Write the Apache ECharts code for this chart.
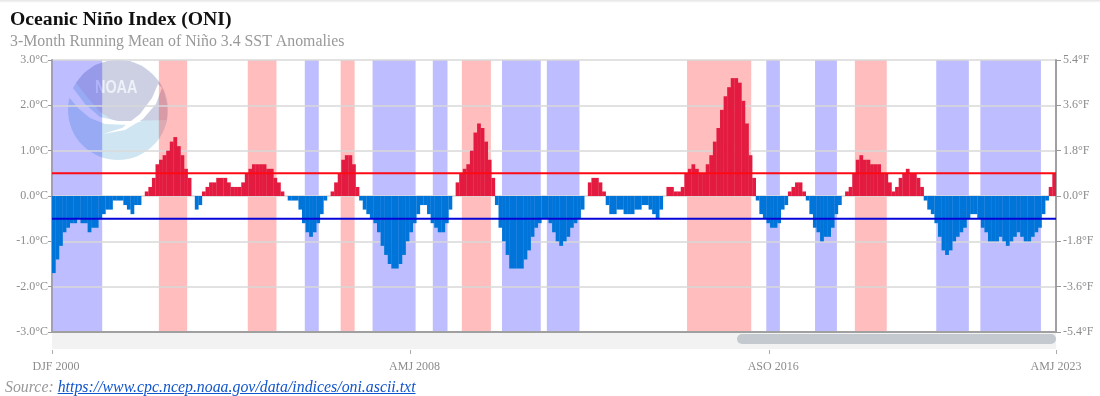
<!DOCTYPE html>
<html>
<head>
<meta charset="utf-8">
<title>Oceanic Niño Index (ONI)</title>
<script src="https://cdn.jsdelivr.net/npm/echarts@6/dist/echarts.min.js"></script>
<style>
  html, body { margin: 0; padding: 0; background: #fff; }
  #topShade { position: absolute; left: 0; top: 0; width: 1100px; height: 3px; background: linear-gradient(#e4e4e4, #fff); z-index: 2; }
  #chart { position: absolute; left: 0; top: 0; width: 1100px; height: 396px; }
  #source { position: absolute; left: 5px; top: 378px; font: italic 15.85px "Liberation Serif", serif; color: #999; }
  #source a { color: #1155cc; }
</style>
</head>
<body>
<div id="topShade"></div>
<div id="chart"></div>
<div id="source">Source: <a href="https://www.cpc.ncep.noaa.gov/data/indices/oni.ascii.txt">https://www.cpc.ncep.noaa.gov/data/indices/oni.ascii.txt</a></div>
<script>
const seasons = ["DJF", "JFM", "FMA", "MAM", "AMJ", "MJJ", "JJA", "JAS", "ASO", "SON", "OND", "NDJ"];
const tickLabels = ["DJF 2000", "AMJ 2008", "ASO 2016", "AMJ 2023"];

const oni2000 = [-1.7, -1.4, -1.1, -0.8, -0.7, -0.6, -0.6, -0.5, -0.6, -0.6, -0.8, -0.7];
const oni2001 = [-0.7, -0.5, -0.4, -0.3, -0.3, -0.1, -0.1, -0.1, -0.2, -0.3, -0.4, -0.2];
const oni2002 = [-0.2, 0.0, 0.1, 0.2, 0.4, 0.7, 0.8, 0.9, 1.0, 1.2, 1.3, 1.1];
const oni2003 = [0.9, 0.6, 0.4, 0.0, -0.3, -0.2, 0.1, 0.2, 0.3, 0.3, 0.4, 0.4];
const oni2004 = [0.4, 0.3, 0.2, 0.2, 0.2, 0.3, 0.5, 0.6, 0.7, 0.7, 0.7, 0.7];
const oni2005 = [0.6, 0.6, 0.4, 0.3, 0.1, 0.0, -0.1, -0.1, -0.1, -0.3, -0.6, -0.8];
const oni2006 = [-0.9, -0.8, -0.6, -0.4, -0.1, 0.0, 0.1, 0.3, 0.5, 0.8, 0.9, 0.9];
const oni2007 = [0.7, 0.2, -0.1, -0.3, -0.4, -0.5, -0.6, -0.8, -1.1, -1.3, -1.5, -1.6];
const oni2008 = [-1.6, -1.5, -1.3, -1.0, -0.8, -0.6, -0.4, -0.2, -0.2, -0.4, -0.6, -0.7];
const oni2009 = [-0.8, -0.8, -0.6, -0.3, 0.0, 0.3, 0.5, 0.6, 0.7, 1.0, 1.4, 1.6];
const oni2010 = [1.5, 1.2, 0.8, 0.4, -0.2, -0.7, -1.0, -1.3, -1.6, -1.6, -1.6, -1.6];
const oni2011 = [-1.4, -1.2, -0.9, -0.7, -0.6, -0.5, -0.5, -0.6, -0.8, -1.0, -1.1, -1.0];
const oni2012 = [-0.9, -0.7, -0.6, -0.5, -0.3, 0.0, 0.3, 0.4, 0.4, 0.3, 0.1, -0.2];
const oni2013 = [-0.4, -0.4, -0.3, -0.3, -0.4, -0.4, -0.4, -0.3, -0.3, -0.2, -0.2, -0.3];
const oni2014 = [-0.4, -0.5, -0.3, 0.0, 0.2, 0.2, 0.1, 0.1, 0.2, 0.5, 0.6, 0.7];
const oni2015 = [0.6, 0.5, 0.5, 0.7, 0.9, 1.2, 1.5, 1.9, 2.2, 2.4, 2.6, 2.6];
const oni2016 = [2.5, 2.1, 1.6, 0.9, 0.4, -0.1, -0.4, -0.5, -0.6, -0.7, -0.7, -0.6];
const oni2017 = [-0.3, -0.2, 0.1, 0.2, 0.3, 0.3, 0.1, -0.1, -0.4, -0.7, -0.8, -1.0];
const oni2018 = [-0.9, -0.9, -0.7, -0.4, -0.2, 0.0, 0.1, 0.2, 0.5, 0.8, 0.9, 0.8];
const oni2019 = [0.8, 0.7, 0.7, 0.7, 0.5, 0.5, 0.3, 0.1, 0.2, 0.4, 0.5, 0.6];
const oni2020 = [0.5, 0.5, 0.4, 0.2, -0.1, -0.3, -0.4, -0.6, -0.9, -1.2, -1.3, -1.2];
const oni2021 = [-1.0, -0.9, -0.8, -0.7, -0.5, -0.4, -0.4, -0.5, -0.7, -0.8, -1.0, -1.0];
const oni2022 = [-1.0, -0.9, -1.0, -1.1, -1.0, -0.9, -0.8, -0.9, -1.0, -1.0, -0.9, -0.8];
const oni2023 = [-0.7, -0.4, -0.1, 0.2, 0.5];

const oniByYear = [oni2000, oni2001, oni2002, oni2003, oni2004, oni2005, oni2006, oni2007, oni2008,
  oni2009, oni2010, oni2011, oni2012, oni2013, oni2014, oni2015, oni2016, oni2017, oni2018, oni2019,
  oni2020, oni2021, oni2022, oni2023];

// shaded periods, as positions on the month index
const elNinoBands = [[29.8, 37.7], [54.6, 62.6], [80.5, 84.4], [114.3, 122.4], [177.1, 195], [223.9, 232.8]];
const laNinaBands = [[0, 14], [70.5, 74.4], [89.4, 101.4], [106.2, 110.3], [125.5, 136.3], [138, 147.1],
  [199.2, 203], [212.8, 218.9], [246.6, 255.7], [258.9, 275.8]];

const elNinoLine = [[0, 0.5], [280, 0.5]];
const laNinaLine = [[0, -0.5], [280, -0.5]];

const categories = [];
const oniValues = [];
oniByYear.forEach((year, y) => {
  year.forEach((v, m) => {
    categories.push(seasons[m] + " " + (2000 + y));
    oniValues.push(v);
  });
});

const labelFont = "Liberation Serif";
const labelColor = "#8c8c8c";

function bandSeries(name, data, color) {
  return {
    name: name,
    type: "custom",
    xAxisIndex: 1,
    yAxisIndex: 0,
    z: 0,
    silent: true,
    clip: true,
    data: data,
    encode: { x: [0, 1] },
    renderItem: function (params, api) {
      const a = api.coord([api.value(0), 3]);
      const b = api.coord([api.value(1), -3]);
      return {
        type: "rect",
        shape: { x: a[0], y: a[1], width: b[0] - a[0], height: b[1] - a[1] },
        style: { fill: color },
      };
    },
  };
}

const chart = echarts.init(document.getElementById("chart"), null, { renderer: "canvas" });

const option = {
  animation: false,
  backgroundColor: "#fff",
  title: {
    text: "Oceanic Niño Index (ONI)",
    subtext: "3-Month Running Mean of Niño 3.4 SST Anomalies",
    left: 10,
    top: 10,
    itemGap: 4,
    padding: 0,
    textStyle: { fontFamily: labelFont, fontSize: 19.7, fontWeight: "bold", color: "#111" },
    subtextStyle: { fontFamily: labelFont, fontSize: 15.85, color: "#999" },
  },
  grid: { left: 52, right: 44, top: 60, bottom: 64, containLabel: false },
  xAxis: [
    {
      // tick and label axis, runs edge to edge below the scrollbar strip
      type: "category",
      data: categories,
      boundaryGap: false,
      position: "bottom",
      offset: 18,
      z: 4,
      axisLine: { show: true, onZero: false, lineStyle: { color: "#999", opacity: 0 } },
      axisTick: {
        show: true,
        length: 4,
        lineStyle: { color: "#aaa", width: 1 },
        interval: (i, v) => tickLabels.includes(v),
      },
      axisLabel: {
        fontFamily: labelFont,
        fontSize: 12,
        color: labelColor,
        margin: 11,
        interval: (i, v) => tickLabels.includes(v),
        formatter: (v) => (v === "AMJ 2023" ? v : "{shifted|" + v + "}"),
        rich: { shifted: { fontFamily: labelFont, fontSize: 12, color: labelColor, padding: [0, 0, 0, 8] } },
      },
      splitLine: { show: false },
    },
    {
      // baseline, also the scale for the bands and threshold lines
      type: "value",
      min: 0,
      max: 280,
      position: "bottom",
      z: 3,
      axisLine: { show: true, onZero: false, lineStyle: { color: "#a0a0a0", width: 2 } },
      axisTick: { show: false },
      axisLabel: { show: false },
      splitLine: { show: false },
    },
    {
      // bars sit on their own axis
      type: "category",
      data: categories,
      show: false,
      boundaryGap: true,
    },
  ],
  yAxis: [
    {
      type: "value",
      min: -3,
      max: 3,
      interval: 1,
      position: "left",
      z: 1,
      axisLine: { show: true, onZero: false, lineStyle: { color: "#a0a0b8", width: 2 } },
      axisTick: { show: true, length: 4, lineStyle: { color: "#999" } },
      axisLabel: {
        fontFamily: labelFont,
        fontSize: 12,
        color: labelColor,
        margin: 4,
        formatter: (v) => v.toFixed(1) + "°C",
      },
      splitLine: { show: true, lineStyle: { color: "#d8d8d8", width: 1.5 } },
    },
    {
      type: "value",
      min: -5.4,
      max: 5.4,
      interval: 1.8,
      position: "right",
      z: 1,
      axisLine: { show: true, onZero: false, lineStyle: { color: "#a0a0a0", width: 2 } },
      axisTick: { show: true, length: 5, lineStyle: { color: "#999" } },
      axisLabel: {
        fontFamily: labelFont,
        fontSize: 12,
        color: labelColor,
        margin: 7,
        formatter: (v) => v.toFixed(1) + "°F",
      },
      splitLine: { show: false },
    },
  ],
  series: [
    bandSeries("La Niña", laNinaBands, "rgba(0,0,255,0.26)"),
    bandSeries("El Niño", elNinoBands, "rgba(255,0,0,0.26)"),
    {
      name: "ONI",
      type: "bar",
      xAxisIndex: 2,
      yAxisIndex: 0,
      data: oniValues,
      barWidth: 3.8,
      z: 2,
      itemStyle: { color: (p) => (p.value >= 0 ? "#e31b40" : "#0075d9") },
    },
    {
      name: "El Niño threshold",
      type: "line",
      xAxisIndex: 1,
      yAxisIndex: 0,
      data: elNinoLine,
      z: 3,
      symbol: "none",
      lineStyle: { color: "#ff0a14", width: 2 },
    },
    {
      name: "La Niña threshold",
      type: "line",
      xAxisIndex: 1,
      yAxisIndex: 0,
      data: laNinaLine,
      z: 3,
      symbol: "none",
      lineStyle: { color: "#0505d8", width: 2 },
    },
  ],
  graphic: [
    // NOAA logo watermark, sits behind the shaded bands
    { type: "circle", z: -1, silent: true, shape: { cx: 118, cy: 110, r: 50 }, style: { fill: "#cfe6f2" } },
    {
      type: "polygon",
      z: -1,
      silent: true,
      shape: {
        points: [[76, 83], [84, 73], [95, 65], [108, 61], [118, 60], [130, 61], [142, 66], [152, 74], [160, 83],
          [164, 92], [167, 105], [167, 120], [130, 121], [114, 121], [100, 112], [88, 98]],
      },
      style: { fill: "#ccd0e2" },
    },
    {
      type: "polygon",
      z: -1,
      silent: true,
      shape: {
        points: [[68, 96], [73, 88], [85, 104], [100, 117], [118, 121], [142, 121], [130, 125], [105, 124], [90, 118], [78, 108]],
      },
      style: { fill: "#fff" },
    },
    {
      type: "polygon",
      z: -1,
      silent: true,
      shape: {
        points: [[103, 134], [122, 128], [140, 114], [152, 98], [158, 84], [162, 88], [156, 104], [143, 119], [125, 130]],
      },
      style: { fill: "#fff" },
    },
    {
      type: "text",
      z: -1,
      silent: true,
      x: 95,
      y: 79,
      scaleX: 0.8,
      style: {
        text: "NOAA",
        fontFamily: "Liberation Sans",
        fontWeight: "bold",
        fontSize: 18,
        fill: "#eef0f8",
      },
    },
    // scrollbar strip under the plot
    { type: "rect", z: 1, silent: true, shape: { x: 52, y: 333, width: 1004, height: 16 }, style: { fill: "#f2f2f2" } },
    { type: "rect", z: 2, silent: true, shape: { x: 737, y: 334, width: 319, height: 10, r: 5 }, style: { fill: "#c3c9ce" } },
  ],
};

chart.setOption(option);
</script>
</body>
</html>
